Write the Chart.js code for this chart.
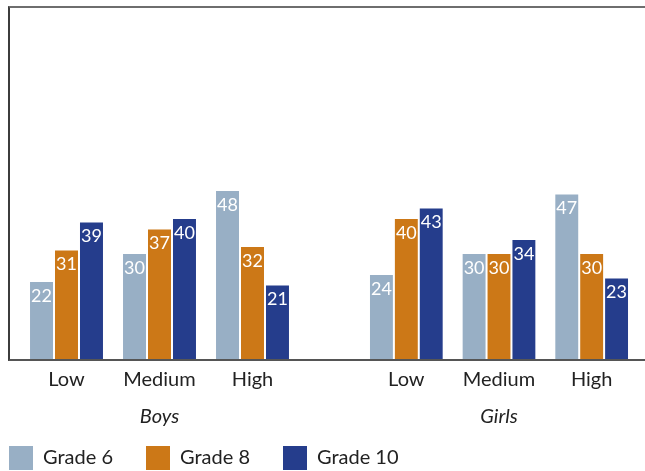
<!DOCTYPE html>
<html lang="en">
<head>
    <meta charset="UTF-8">
    <title>Boys and girls by level and grade</title>
    <script src="https://cdn.jsdelivr.net/npm/chart.js"></script>
    <style>
        body { margin: 0; background: #fff; }
        #wrap { position: relative; width: 645px; height: 471px; }
        #wrap canvas { position: absolute; left: 0; top: 0; }
        /* frame around the plot: top, left and bottom lines */
        #frame {
            position: absolute; left: 8px; top: 6px; width: 637px; height: 355px;
            box-sizing: border-box;
            border-top: 2px solid #6e6e6e;
            border-left: 2px solid #3c3c3c;
            border-bottom: 2px solid #555;
        }
    </style>
</head>
<body>
<div id="wrap">
    <div id="frame"></div>
    <canvas id="boysChart" width="645" height="471"></canvas>
    <canvas id="girlsChart" width="645" height="471"></canvas>
</div>

<script>
    // data
    const levels = ['Low', 'Medium', 'High'];
    const groups = ['Boys', 'Girls'];
    const grades = ['Grade 6', 'Grade 8', 'Grade 10'];

    const boysGrade6 = [22, 30, 48];
    const boysGrade8 = [31, 37, 32];
    const boysGrade10 = [39, 40, 21];

    const girlsGrade6 = [24, 30, 47];
    const girlsGrade8 = [40, 30, 30];
    const girlsGrade10 = [43, 34, 23];

    const colors = ['#98afc5', '#cc7817', '#253d8c'];
    const FONT = 'Lato, "Open Sans", sans-serif';

    // white numbers at the top inside each bar
    const valueLabels = {
        id: 'valueLabels',
        afterDatasetsDraw(chart) {
            const ctx = chart.ctx;
            ctx.save();
            ctx.font = '18px ' + FONT;
            ctx.fillStyle = '#ffffff';
            ctx.textAlign = 'center';
            ctx.textBaseline = 'top';
            chart.data.datasets.forEach((ds, i) => {
                chart.getDatasetMeta(i).data.forEach((bar, j) => {
                    ctx.fillText(ds.data[j], bar.x, bar.y + 5);
                });
            });
            ctx.restore();
        }
    };

    function makeDatasets(series) {
        return series.map((values, i) => ({
            label: grades[i],
            data: values,
            backgroundColor: colors[i],
            borderWidth: 0,
            categoryPercentage: 0.806,
            barPercentage: 0.92
        }));
    }

    function makeOptions(title, leftWidth, rightWidth, padding, showLegend) {
        return {
            responsive: false,
            animation: false,
            layout: { padding: padding },
            plugins: {
                tooltip: { enabled: false },
                legend: {
                    display: showLegend,
                    position: 'bottom',
                    align: 'start',
                    labels: {
                        boxWidth: 24,
                        boxHeight: 24,
                        padding: 33,
                        color: '#222',
                        font: { family: FONT, size: 20 }
                    }
                }
            },
            scales: {
                x: {
                    grid: { display: false, drawTicks: false },
                    border: { display: false },
                    ticks: { color: '#222', padding: 9, font: { family: FONT, size: 20 } },
                    title: {
                        display: true,
                        text: title,
                        color: '#222',
                        padding: { top: 0, bottom: -16 },
                        font: { family: FONT, size: 20, style: 'italic' }
                    },
                    afterFit(scale) { scale.height = 54; }
                },
                y: {
                    min: 0,
                    max: 100,
                    position: 'left',
                    grid: { display: false },
                    border: { display: false },
                    ticks: { display: false },
                    afterFit(scale) { scale.width = leftWidth; }
                },
                yr: {
                    type: 'linear',
                    position: 'right',
                    grid: { display: false },
                    border: { display: false },
                    ticks: { display: false },
                    afterFit(scale) { scale.width = rightWidth; }
                }
            }
        };
    }

    const boysChart = new Chart(document.getElementById('boysChart'), {
        type: 'bar',
        data: { labels: levels, datasets: makeDatasets([boysGrade6, boysGrade8, boysGrade10]) },
        options: makeOptions(groups[0], 44, 346, { left: -24, top: 9, right: 0, bottom: -9 }, true),
        plugins: [valueLabels]
    });

    // girls chart sits over the same area, leaving room for the legend below
    const legendRoom = boysChart.legend.height - 9;
    new Chart(document.getElementById('girlsChart'), {
        type: 'bar',
        data: { labels: levels, datasets: makeDatasets([girlsGrade6, girlsGrade8, girlsGrade10]) },
        options: makeOptions(groups[1], 360, 7, { left: 0, top: 9, right: 0, bottom: legendRoom }, false),
        plugins: [valueLabels]
    });
</script>
</body>
</html>
